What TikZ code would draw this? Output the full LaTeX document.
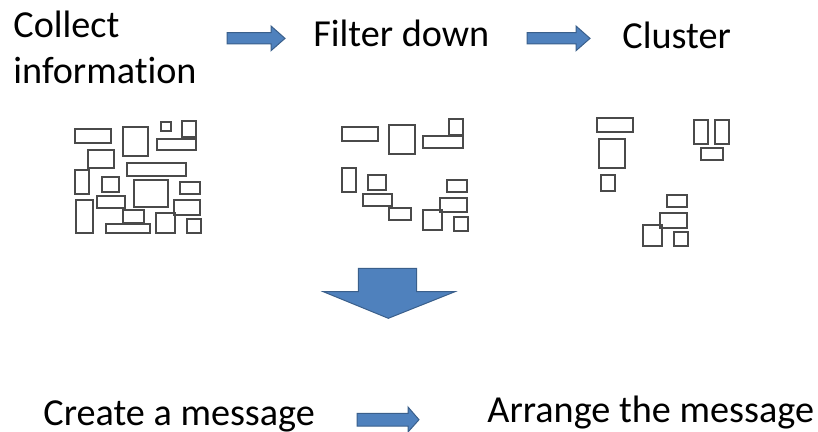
\documentclass[tikz,border=0pt]{standalone}
\usepackage{fontspec}
\setmainfont{Carlito}[Ligatures=NoCommon]
\usepackage{xcolor}
\definecolor{arrowfill}{HTML}{4F81BD}
\definecolor{arrowline}{HTML}{3A5F8B}
\definecolor{boxline}{HTML}{4A4A4A}
\tikzset{
  label/.style={inner sep=0pt, anchor=base west, font=\fontsize{19.1}{23.3}\selectfont},
  card/.style={draw=boxline, line width=0.65pt},
  blockarrow/.style={fill=arrowfill, draw=arrowline, line width=0.5pt, line join=miter}
}
\begin{document}
\begin{tikzpicture}[x=0.5pt,y=-0.5pt]
\useasboundingbox (0,0) rectangle (818,432);
% step labels
\node[label, align=left] (collect) at (13,84) {Collect\\information};
\node[label] (filter) at (313,46.7) {Filter down};
\node[label] (cluster) at (622,48.3) {Cluster};
\node[label] (create) at (43,425) {Create a message};
\node[label] (arrange) at (487,422) {Arrange the message};
% block arrows
\filldraw[blockarrow] (227,32.7) -- (271,32.7) -- (271,26) -- (285,38.4) -- (271,50.7) -- (271,44) -- (227,44) -- cycle;
\filldraw[blockarrow] (527,32.7) -- (576,32.7) -- (576,26) -- (590,38.4) -- (576,50.7) -- (576,44) -- (527,44) -- cycle;
\filldraw[blockarrow] (357,413.3) -- (408,413.3) -- (408,407) -- (419,419.7) -- (408,432) -- (408,426) -- (357,426) -- cycle;
\filldraw[blockarrow] (358.3,268.3) -- (416.7,268.3) -- (416.7,291.7) -- (455,291.7) -- (388.3,318.3) -- (323.3,291.7) -- (358.3,291.7) -- cycle;
% all the information
\foreach \a/\b/\c/\d in {75/129/111/143, 123/127/148/156, 161/122/171/131, 182/121/196/137,
  157/139/196/150, 88/150/114/168, 127/163/186/176, 75/170/89/194, 102/177/119/192,
  134/180/168/207, 180/182/200/194, 76/200/93/233, 97/196/125/208, 174/200/200/215,
  123/210/144/223, 156/213/175/233, 187/219/201/233, 106/224/150/233}
\draw[card] (\a,\b) rectangle (\c,\d);
% filtered
\foreach \a/\b/\c/\d in {342/127/378/141, 389/125/415/154, 449/119/463/135, 423/136/463/148,
  342/168/356/192, 368/175/386/190, 363/194/392/206, 389/208/411/220, 447/180/467/192,
  440/198/467/212, 423/210/442/230, 454/217/468/231}
\draw[card] (\a,\b) rectangle (\c,\d);
% clusters
\foreach \a/\b/\c/\d in {597/118/633/132, 599/139/625/168, 601/175/615/191, 694/120/708/144,
  715/120/729/144, 701/148/723/160, 667/195/687/207, 660/213/687/228, 643/225/662/246,
  674/232/688/246}
\draw[card] (\a,\b) rectangle (\c,\d);
\end{tikzpicture}
\end{document}
